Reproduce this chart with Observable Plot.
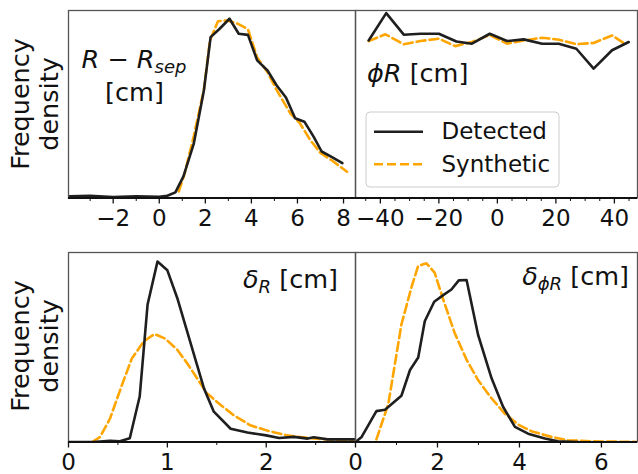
<!DOCTYPE html>
<html><head><meta charset="utf-8">
<script src="https://cdn.jsdelivr.net/npm/d3@7"></script>
<script src="https://cdn.jsdelivr.net/npm/@observablehq/plot@0.6"></script>
<style>
body{margin:0;background:#fff;}
#chart{position:relative;width:638px;height:474px;overflow:hidden;font-family:"DejaVu Sans";background:#fff;}
#chart svg{position:absolute;overflow:visible;background:transparent;}
</style></head><body><div id="chart"></div>
<script>
// ---- Data (frequency density, arbitrary units: fraction of panel height) ----
// Panel 1: R - R_sep [cm]
const rsepDetX = [-3.9, -3.0, -2.0, -1.0, 0.0, 0.35, 0.7, 1.05, 1.5, 1.94, 2.23, 2.6, 3.05, 3.45, 3.85, 4.25, 4.7, 5.1, 5.5, 5.9, 6.3, 6.7, 7.05, 7.5, 7.95];
const rsepDetY = [0.009, 0.012, 0.005, 0.009, 0.007, 0.012, 0.03, 0.115, 0.29, 0.575, 0.858, 0.9, 0.956, 0.876, 0.87, 0.734, 0.68, 0.6, 0.536, 0.425, 0.407, 0.327, 0.248, 0.218, 0.186];
const rsepSynX = [0.85, 1.1, 1.5, 1.94, 2.2, 2.55, 2.95, 3.4, 3.85, 4.25, 4.7, 5.1, 5.7, 6.1, 6.55, 7.0, 7.5, 8.15];
const rsepSynY = [0.035, 0.13, 0.33, 0.58, 0.84, 0.943, 0.947, 0.93, 0.9, 0.75, 0.67, 0.575, 0.45, 0.4, 0.31, 0.24, 0.2, 0.14];
// Panel 2: phi R [cm]
const phiDetX = [-44, -38, -32, -26.3, -20, -14, -8.7, -2.6, 3.3, 9, 15.3, 21, 27, 32.9, 39.2, 44.9];
const phiDetY = [0.84, 0.986, 0.871, 0.876, 0.876, 0.835, 0.823, 0.876, 0.837, 0.846, 0.823, 0.823, 0.796, 0.69, 0.788, 0.832];
const phiSynX = [-44, -38.3, -32, -26.3, -20, -14.4, -8.7, -2.6, 3.3, 9, 15.3, 21, 27, 32.9, 39.2, 43.8];
const phiSynY = [0.837, 0.873, 0.82, 0.837, 0.85, 0.81, 0.832, 0.869, 0.823, 0.84, 0.855, 0.844, 0.82, 0.827, 0.867, 0.82];
// Panel 3: delta_R [cm]
const dRDetX = [0, 0.25, 0.42, 0.52, 0.62, 0.72, 0.8, 0.9, 1.0, 1.1, 1.2, 1.3, 1.37, 1.47, 1.64, 1.81, 2.0, 2.13, 2.28, 2.42, 2.48, 2.62, 2.89];
const dRDetY = [0, 0, 0.007, 0.004, 0.02, 0.24, 0.726, 0.952, 0.906, 0.76, 0.584, 0.407, 0.283, 0.16, 0.07, 0.05, 0.035, 0.021, 0.027, 0.018, 0.025, 0.014, 0.014];
const dRSynX = [0.24, 0.32, 0.42, 0.54, 0.64, 0.76, 0.87, 0.98, 1.1, 1.2, 1.3, 1.4, 1.54, 1.67, 1.84, 2.01, 2.21, 2.42, 2.62, 2.89];
const dRSynY = [0, 0.027, 0.124, 0.3, 0.44, 0.53, 0.57, 0.545, 0.487, 0.416, 0.336, 0.257, 0.195, 0.142, 0.088, 0.06, 0.035, 0.021, 0.014, 0.007];
// Panel 4: delta_phiR [cm]
const dPDetX = [0, 0.15, 0.51, 0.72, 1.12, 1.33, 1.53, 1.69, 1.92, 2.14, 2.34, 2.52, 2.71, 2.99, 3.32, 3.6, 3.89, 4.21, 4.62, 4.94, 5.43];
const dPDetY = [0, 0.027, 0.163, 0.17, 0.244, 0.38, 0.446, 0.637, 0.74, 0.775, 0.805, 0.853, 0.855, 0.566, 0.336, 0.186, 0.08, 0.044, 0.018, 0.004, 0];
const dPSynX = [0.51, 0.8, 1.12, 1.37, 1.53, 1.73, 1.93, 2.14, 2.42, 2.71, 2.99, 3.32, 3.64, 3.97, 4.29, 4.78, 5.19, 5.76, 6.9];
const dPSynY = [0.014, 0.2, 0.62, 0.82, 0.93, 0.943, 0.894, 0.752, 0.575, 0.434, 0.327, 0.23, 0.15, 0.092, 0.057, 0.027, 0.009, 0.004, 0];

// Tick labels
const rsepTicks = [-2, 0, 2, 4, 6, 8], rsepMinor = [-3, -1, 1, 3, 5, 7];
const phiTicks = [-40, -20, 0, 20, 40], phiMinor = [-45, -35, -30, -25, -15, -10, -5, 5, 10, 15, 25, 30, 35, 45];
const dRTicks = [0, 1, 2], dRMinor = [0.5, 1.5, 2.5];
const dPTicks = [0, 2, 4, 6], dPMinor = [1, 3, 5];

const zip = (xs, ys) => xs.map((x, i) => ({x, y: ys[i]}));
const fmt = d => d < 0 ? "\u2212" + (-d) : String(d);
const chart = document.getElementById("chart");

function panel({fx0, fx1, fy0, fy1, domain, ticks, minor, det, syn}) {
  const M = 20, MB = 45;
  const svg = Plot.plot({
    width: fx1 - fx0 + 2 * M, height: fy1 - fy0 + M + MB,
    marginLeft: M, marginRight: M, marginTop: M, marginBottom: MB,
    x: {domain, label: null},
    y: {domain: [0, 1], axis: null},
    style: {fontFamily: "DejaVu Sans", background: "transparent", overflow: "visible", color: "#111"},
    marks: [
      Plot.line(syn, {x: "x", y: "y", stroke: "orange", strokeWidth: 2.6, strokeDasharray: "9,4", clip: true}),
      Plot.line(det, {x: "x", y: "y", stroke: "#1f1f1f", strokeWidth: 2.6, clip: true}),
      Plot.frame({stroke: "#555", strokeWidth: 1.3}),
      Plot.ruleY([0], {stroke: "#111", strokeWidth: 1.8}),
      Plot.axisX(ticks, {tickSize: 6, tickPadding: 6, fontSize: 23, strokeWidth: 1.3, tickFormat: fmt, label: null}),
      Plot.axisX(minor, {tickSize: 3.5, strokeWidth: 1, tickFormat: () => "", label: null})
    ]
  });
  svg.style.left = (fx0 - M) + "px";
  svg.style.top = (fy0 - M) + "px";
  chart.appendChild(svg);
}

panel({fx0: 68, fx1: 355, fy0: 10, fy1: 197.5, domain: [-3.94, 8.52], ticks: rsepTicks, minor: rsepMinor,
       det: zip(rsepDetX, rsepDetY), syn: zip(rsepSynX, rsepSynY)});
panel({fx0: 355, fx1: 637, fy0: 10, fy1: 197.5, domain: [-48.5, 47.9], ticks: phiTicks, minor: phiMinor,
       det: zip(phiDetX, phiDetY), syn: zip(phiSynX, phiSynY)});
panel({fx0: 68, fx1: 355, fy0: 252, fy1: 441.5, domain: [0, 2.903], ticks: dRTicks, minor: dRMinor,
       det: zip(dRDetX, dRDetY), syn: zip(dRSynX, dRSynY)});
panel({fx0: 355, fx1: 637, fy0: 252, fy1: 441.5, domain: [0, 6.88], ticks: dPTicks, minor: dPMinor,
       det: zip(dPDetX, dPDetY), syn: zip(dPSynX, dPSynY)});

// ---- Overlay text: labels, titles, legend ----
const ov = d3.select(chart).append("svg").attr("width", 638).attr("height", 474)
  .style("left", "0px").style("top", "0px").style("pointer-events", "none")
  .attr("font-family", "DejaVu Sans").attr("fill", "#111");

for (const cy of [104, 346]) {
  ov.append("text").attr("transform", `translate(28.5,${cy}) rotate(-90)`).attr("text-anchor", "middle")
    .attr("font-size", 25.5).text("Frequency");
  ov.append("text").attr("transform", `translate(58,${cy}) rotate(-90)`).attr("text-anchor", "middle")
    .attr("font-size", 25.5).text("density");
}

// R - R_sep [cm]
{
  const t = ov.append("text").attr("x", 134).attr("y", 68).attr("text-anchor", "middle").attr("font-size", 25.5);
  t.append("tspan").attr("font-style", "italic").text("R");
  t.append("tspan").text(" \u2212 ");
  t.append("tspan").attr("font-style", "italic").text("R");
  t.append("tspan").attr("font-style", "italic").attr("font-size", 18).attr("dy", 5).text("sep");
  ov.append("text").attr("x", 134.5).attr("y", 101).attr("text-anchor", "middle").attr("font-size", 25.5).text("[cm]");
}
// phi R [cm]
{
  const t = ov.append("text").attr("x", 367).attr("y", 82).attr("font-size", 25.5);
  t.append("tspan").attr("font-style", "italic").text("\u03D5R");
  t.append("tspan").text(" [cm]");
}
// delta_R [cm]
{
  const t = ov.append("text").attr("x", 338).attr("y", 288).attr("text-anchor", "end").attr("font-size", 25.5);
  t.append("tspan").attr("font-style", "italic").text("\u03B4");
  t.append("tspan").attr("font-style", "italic").attr("font-size", 18).attr("dy", 5).text("R");
  t.append("tspan").attr("dy", -5).text(" [cm]");
}
// delta_phiR [cm]
{
  const t = ov.append("text").attr("x", 629).attr("y", 285).attr("text-anchor", "end").attr("font-size", 25.5);
  t.append("tspan").attr("font-style", "italic").text("\u03B4");
  t.append("tspan").attr("font-style", "italic").attr("font-size", 18).attr("dy", 5).text("\u03D5R");
  t.append("tspan").attr("dy", -5).text(" [cm]");
}
// Legend
ov.append("rect").attr("x", 366).attr("y", 112).attr("width", 193).attr("height", 75).attr("rx", 4)
  .attr("fill", "white").attr("fill-opacity", 0.8).attr("stroke", "#ccc").attr("stroke-width", 1);
ov.append("line").attr("x1", 374).attr("x2", 423).attr("y1", 131.7).attr("y2", 131.7)
  .attr("stroke", "#1f1f1f").attr("stroke-width", 2.6);
ov.append("line").attr("x1", 374).attr("x2", 423).attr("y1", 164.3).attr("y2", 164.3)
  .attr("stroke", "orange").attr("stroke-width", 2.6).attr("stroke-dasharray", "9,4");
ov.append("text").attr("x", 441.5).attr("y", 139.3).attr("font-size", 23).text("Detected");
ov.append("text").attr("x", 441.5).attr("y", 172).attr("font-size", 23).text("Synthetic");
</script></body></html>
